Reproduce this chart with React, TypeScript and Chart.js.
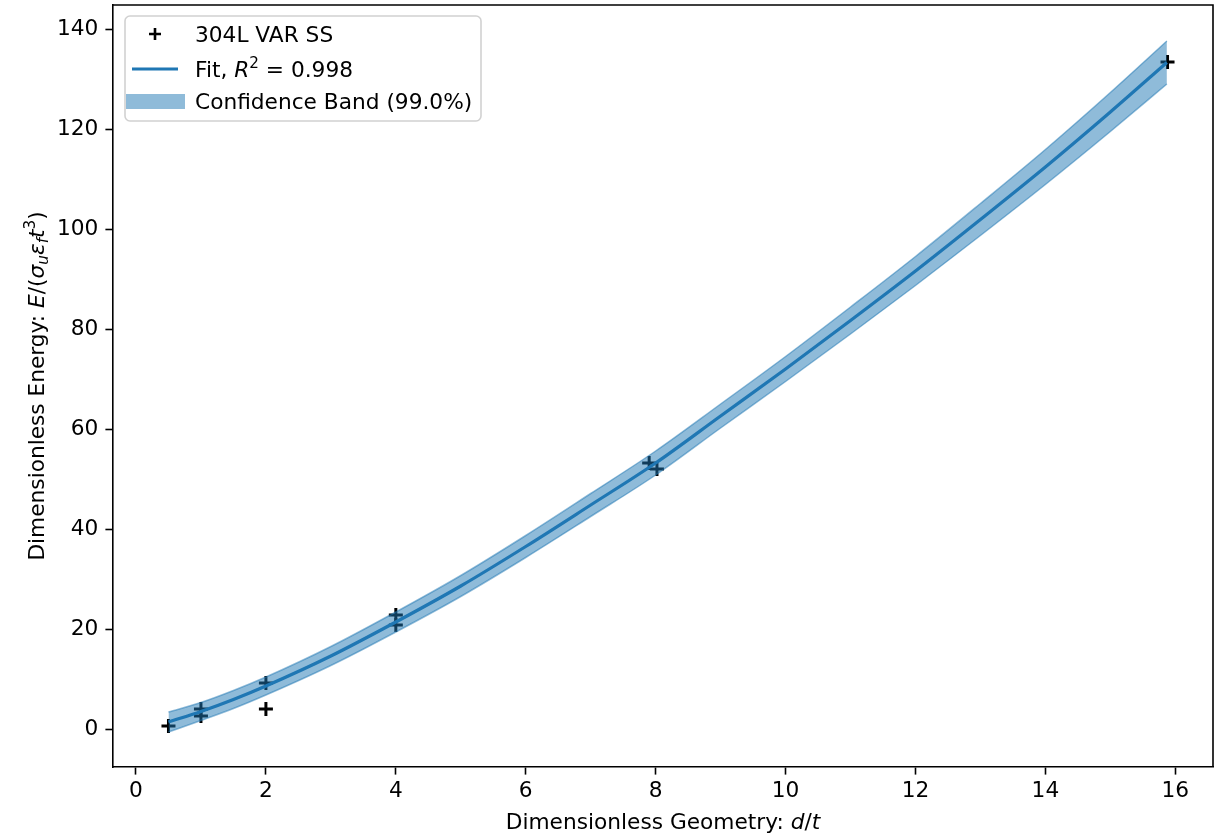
import React, { useEffect, useRef } from "react";
import { Chart, registerables } from "chart.js";

Chart.register(...registerables);

// Measured data (304L VAR SS)
const measX = [0.5, 1, 1, 2, 2, 4, 4, 7.9, 8.02, 15.88];
const measY = [0.6, 4.0, 2.6, 9.2, 4.0, 22.8, 20.8, 53.2, 52.0, 133.4];

// Fit curve
const fitX = [0.5, 1, 1.5, 2, 3, 4, 5, 6, 7, 8, 9, 10, 11, 12, 13, 14, 15, 15.87];
const fitY = [1.4, 3.5, 5.9, 8.6, 14.6, 21.4, 28.6, 36.5, 44.8, 53.2, 62.6, 72.0, 81.7, 91.6, 101.9, 112.4, 123.4, 133.3];

// Confidence band (99.0%)
const bandUpper = [3.4, 5.3, 7.7, 10.4, 16.5, 23.4, 30.7, 38.7, 47.1, 55.6, 65.0, 74.5, 84.4, 94.5, 105.1, 115.9, 127.3, 137.6];
const bandLower = [-0.6, 1.7, 4.1, 6.8, 12.7, 19.4, 26.5, 34.3, 42.5, 50.8, 60.2, 69.5, 79.0, 88.7, 98.7, 108.9, 119.5, 129.0];

const xTickStep = 2;
const yTickStep = 20;

const BLUE = "#1f77b4";
const BAND = "rgba(31,119,180,0.5)";
const FONT = "'DejaVu Sans', sans-serif";
const FS = 21.7;

type Seg = { t: string; it?: boolean; sub?: boolean; sup?: boolean };

function segFont(s: Seg, size: number) {
  const sz = s.sub || s.sup ? size * 0.7 : size;
  return `${s.it ? "oblique " : ""}${sz}px ${FONT}`;
}

function measureRich(ctx: CanvasRenderingContext2D, segs: Seg[], size: number) {
  let w = 0;
  for (const s of segs) {
    ctx.font = segFont(s, size);
    w += ctx.measureText(s.t).width;
  }
  return w;
}

function drawRich(ctx: CanvasRenderingContext2D, segs: Seg[], x: number, y: number, size: number, align: "left" | "center") {
  const w = measureRich(ctx, segs, size);
  let cx = align === "center" ? x - w / 2 : x;
  ctx.textAlign = "left";
  ctx.textBaseline = "alphabetic";
  for (const s of segs) {
    ctx.font = segFont(s, size);
    let dy = 0;
    if (s.sup) dy = -size * 0.42;
    if (s.sub) dy = size * 0.2;
    ctx.fillText(s.t, cx, y + dy);
    cx += ctx.measureText(s.t).width;
  }
}

const xTitle: Seg[] = [{ t: "Dimensionless Geometry: " }, { t: "d", it: true }, { t: "/" }, { t: "t", it: true }];
const yTitle: Seg[] = [
  { t: "Dimensionless Energy: " },
  { t: "E", it: true },
  { t: "/(" },
  { t: "σ", it: true },
  { t: "u", it: true, sub: true },
  { t: "ε", it: true },
  { t: "f", it: true, sub: true },
  { t: "t", it: true },
  { t: "3", sup: true },
  { t: ")" },
];

const legendLabels: Seg[][] = [
  [{ t: "304L VAR SS" }],
  [{ t: "Fit, " }, { t: "R", it: true }, { t: "2", sup: true }, { t: " = 0.998" }],
  [{ t: "Confidence Band (99.0%)" }],
];

const decorPlugin = {
  id: "decor",
  afterDraw(chart: any) {
    const ctx: CanvasRenderingContext2D = chart.ctx;
    const a = chart.chartArea;
    ctx.save();
    // top & right spines
    ctx.strokeStyle = "#000";
    ctx.lineWidth = 1.6;
    ctx.beginPath();
    ctx.moveTo(a.left, a.top);
    ctx.lineTo(a.right, a.top);
    ctx.lineTo(a.right, a.bottom);
    ctx.stroke();

    ctx.fillStyle = "#000";
    // axis titles
    drawRich(ctx, xTitle, (a.left + a.right) / 2, 829, FS, "center");
    ctx.save();
    ctx.translate(44, (a.top + a.bottom) / 2);
    ctx.rotate(-Math.PI / 2);
    drawRich(ctx, yTitle, 0, 0, FS, "center");
    ctx.restore();

    // legend
    const lx = 125, ly = 16, lw = 356, lh = 105;
    ctx.beginPath();
    (ctx as any).roundRect(lx, ly, lw, lh, 5);
    ctx.fillStyle = "rgba(255,255,255,0.8)";
    ctx.fill();
    ctx.strokeStyle = "rgba(204,204,204,0.9)";
    ctx.lineWidth = 1.6;
    ctx.stroke();

    // marker
    ctx.strokeStyle = "#000";
    ctx.lineWidth = 2.6;
    ctx.beginPath();
    ctx.moveTo(149, 34); ctx.lineTo(161, 34);
    ctx.moveTo(155, 28); ctx.lineTo(155, 40);
    ctx.stroke();
    // line
    ctx.strokeStyle = BLUE;
    ctx.lineWidth = 3;
    ctx.beginPath();
    ctx.moveTo(132, 69); ctx.lineTo(178, 69);
    ctx.stroke();
    // patch
    ctx.fillStyle = BAND;
    ctx.fillRect(126, 94, 59, 15);

    ctx.fillStyle = "#000";
    drawRich(ctx, legendLabels[0], 195, 42, FS, "left");
    drawRich(ctx, legendLabels[1], 195, 77, FS, "left");
    drawRich(ctx, legendLabels[2], 195, 109, FS, "left");
    ctx.restore();
  },
};

export default function App() {
  const ref = useRef<HTMLCanvasElement | null>(null);
  useEffect(() => {
    if (!ref.current) return;
    const pts = (xs: number[], ys: number[]) => xs.map((x, i) => ({ x, y: ys[i] }));
    const tickFont = { family: FONT, size: FS };
    const chart = new Chart(ref.current, {
      type: "scatter",
      data: {
        datasets: [
          {
            label: "Fit",
            data: pts(fitX, fitY),
            showLine: true,
            borderColor: BLUE,
            borderWidth: 3.2,
            pointRadius: 0,
            fill: false,
            cubicInterpolationMode: "monotone",
            order: 0,
          } as any,
          {
            label: "Band upper",
            data: pts(fitX, bandUpper),
            showLine: true,
            borderColor: BAND,
            borderWidth: 1.5,
            backgroundColor: BAND,
            pointRadius: 0,
            fill: "+1",
            cubicInterpolationMode: "monotone",
            order: 1,
          } as any,
          {
            label: "Band lower",
            data: pts(fitX, bandLower),
            showLine: true,
            borderColor: BAND,
            borderWidth: 1.5,
            pointRadius: 0,
            fill: false,
            cubicInterpolationMode: "monotone",
            order: 1,
          } as any,
          {
            label: "304L VAR SS",
            data: pts(measX, measY),
            pointStyle: "cross",
            pointRadius: 7,
            pointBorderWidth: 3,
            borderColor: "#000",
            backgroundColor: "#000",
            showLine: false,
            order: 5,
          } as any,
        ],
      },
      options: {
        animation: false,
        responsive: false,
        events: [],
        layout: { autoPadding: false, padding: { top: 5, right: 1, left: 0, bottom: 0 } },
        plugins: { legend: { display: false }, tooltip: { enabled: false } },
        scales: {
          x: {
            type: "linear",
            min: -0.354,
            max: 16.58,
            afterFit: (s: any) => { s.height = 70; s.paddingLeft = 0; s.paddingRight = 0; },
            ticks: { stepSize: xTickStep, includeBounds: false, color: "#000", font: tickFont, padding: 4, maxRotation: 0 },
            grid: { drawOnChartArea: false, drawTicks: true, tickLength: 7.6, tickWidth: 1.6, tickColor: "#000" },
            border: { display: true, color: "#000", width: 1.6 },
          },
          y: {
            type: "linear",
            min: -7.6,
            max: 144.8,
            afterFit: (s: any) => { s.width = 113; s.paddingTop = 0; s.paddingBottom = 0; },
            ticks: { stepSize: yTickStep, includeBounds: false, color: "#000", font: tickFont, padding: 7 },
            grid: { drawOnChartArea: false, drawTicks: true, tickLength: 7.6, tickWidth: 1.6, tickColor: "#000" },
            border: { display: true, color: "#000", width: 1.6 },
          },
        } as any,
      },
      plugins: [decorPlugin],
    });
    return () => chart.destroy();
  }, []);
  return (
    <div style={{ position: "absolute", left: 0, top: 0, width: 1214, height: 837, background: "#fff" }}>
      <canvas ref={ref} width={1214} height={837} style={{ display: "block" }} />
    </div>
  );
}
